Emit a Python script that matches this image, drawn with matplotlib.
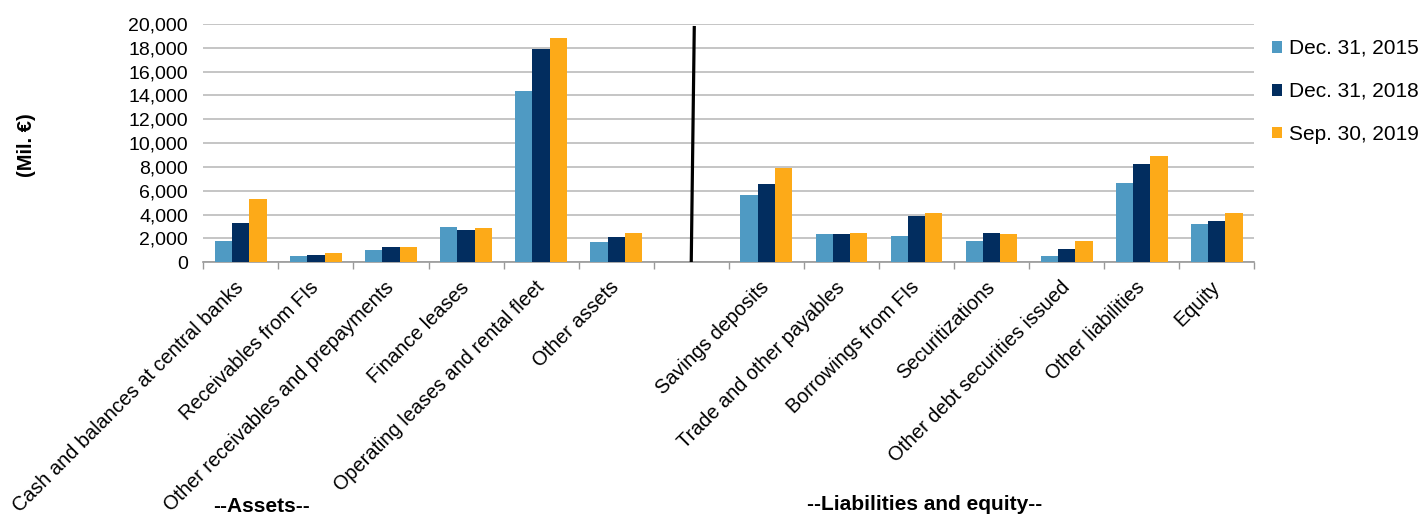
import matplotlib
matplotlib.use("Agg")
import matplotlib.pyplot as plt
import numpy as np

plt.rcParams['font.family'] = ['Liberation Sans', 'DejaVu Sans']

# categories (a blank slot separates the two groups)
assets = ["Cash and balances at central banks", "Receivables from FIs",
          "Other receivables and prepayments", "Finance leases",
          "Operating leases and rental fleet", "Other assets"]
liabilities = ["Savings deposits", "Trade and other payables", "Borrowings from FIs",
               "Securitizations", "Other debt securities issued", "Other liabilities", "Equity"]
categories = assets + [""] + liabilities

series = ["Dec. 31, 2015", "Dec. 31, 2018", "Sep. 30, 2019"]
colors = ["#4F9AC3", "#022D5F", "#FDAA18"]

# values in Mil. EUR, assets then liabilities
dec2015 = [1750, 500, 1000, 2950, 14400, 1700, 5650, 2350, 2200, 1750, 500, 6650, 3200]
dec2018 = [3300, 650, 1300, 2750, 17900, 2150, 6550, 2400, 3900, 2450, 1150, 8250, 3450]
sep2019 = [5300, 800, 1300, 2900, 18800, 2500, 7950, 2450, 4100, 2350, 1750, 8900, 4150]

fig = plt.figure(figsize=(14.24, 5.14), dpi=100)
ax = fig.add_axes([203.3/1424, 1-262.3/514, (1254.3-203.3)/1424, (262.3-24)/514])

# bar positions skip the blank slot
pos = np.array([i for i, c in enumerate(categories) if c != ""])
w = 0.23
for k, (vals, col, lab) in enumerate(zip([dec2015, dec2018, sep2019], colors, series)):
    ax.bar(pos + (k-1)*w, vals, width=w, color=col, label=lab, zorder=3)

# divider between assets and liabilities
ax.plot([6.0, 6.04], [150, 19700], color="black", lw=2.3, zorder=4)

ax.set_xlim(-0.5, len(categories)-0.5)
ax.set_ylim(0, 20000)
ax.set_yticks(np.arange(0, 20001, 2000))
ax.set_yticklabels([f"{v:,}" for v in range(0, 20001, 2000)], fontsize=14)
ax.yaxis.grid(True, color="#C0C0C0", lw=1.3, zorder=0)
ax.tick_params(axis="y", length=0, pad=11)

ax.set_xticks(np.arange(len(categories)))
ax.set_xticklabels(categories, rotation=45, ha="right", va="center",
                   rotation_mode="anchor", fontsize=14.3)
ax.tick_params(axis="x", length=0, pad=16)
ax.set_xticks(np.arange(-0.5, len(categories)), minor=True)
ax.tick_params(axis="x", which="minor", length=5, color="#999999", width=1)

for s in ["top", "right", "left"]:
    ax.spines[s].set_visible(False)
ax.spines["bottom"].set_color("#999999")
ax.spines["bottom"].set_linewidth(1.2)

fig.text(27/1424, 1-145/514, "(Mil. €)", rotation=90, fontsize=14.5, fontweight="bold",
         ha="center", va="center")
fig.text(261/1424, 1-497/514, "--Assets--", fontsize=15, fontweight="bold", ha="center", va="top")
fig.text(925/1424, 1-495/514, "--Liabilities and equity--", fontsize=15, fontweight="bold",
         ha="center", va="top")

fig.legend(loc="upper left", bbox_to_anchor=(1272/1424, 1-39/514), frameon=False,
           fontsize=15, handlelength=0.5, handleheight=0.5, handletextpad=0.3,
           labelspacing=1.15, borderpad=0, borderaxespad=0)

fig.savefig("out.png", dpi=100)
